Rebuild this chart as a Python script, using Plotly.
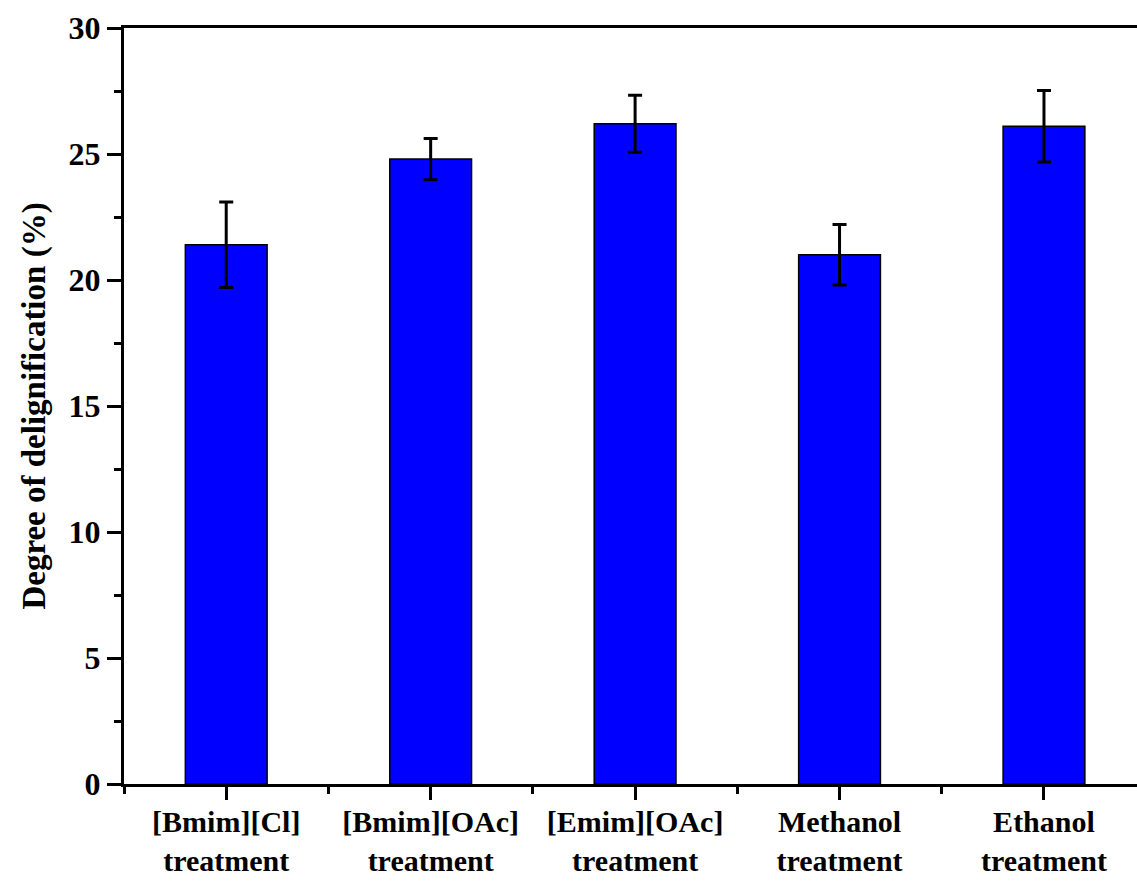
import plotly.graph_objects as go

categories = ["[Bmim][Cl]<br>treatment", "[Bmim][OAc]<br>treatment", "[Emim][OAc]<br>treatment",
              "Methanol<br>treatment", "Ethanol<br>treatment"]
values = [21.4, 24.8, 26.2, 21.0, 26.1]
errors = [1.7, 0.82, 1.13, 1.2, 1.42]
y_ticks = [0, 5, 10, 15, 20, 25, 30]

xpos = list(range(len(categories)))
FONT = "Liberation Serif"

fig = go.Figure()
fig.add_trace(go.Bar(
    x=xpos, y=values, width=0.4,
    marker=dict(color="#0000FF", line=dict(color="#000000", width=1.5)),
    error_y=dict(type="data", array=errors, visible=True, color="#000000",
                 thickness=3, width=7),
    showlegend=False,
))

fig.update_layout(
    width=1137, height=882,
    margin=dict(l=124, r=0, t=28, b=98),
    plot_bgcolor="white", paper_bgcolor="white",
    font=dict(family=FONT, color="black"),
    bargap=0.6,
)
fig.update_xaxes(
    range=[-0.5, 4.455], automargin=False,
    tickvals=xpos, ticktext=[f"<b>{c.replace('<br>', '</b><br><b>')}</b>" for c in categories],
    tickfont=dict(family=FONT, size=30, color="black"),
    ticklabelstandoff=-4,
    showline=True, linecolor="black", linewidth=3, mirror=True,
    ticks="outside", ticklen=13, tickwidth=3, tickcolor="black",
    minor=dict(tickvals=[-0.5, 0.5, 1.5, 2.5, 3.5], ticks="outside", ticklen=7,
               tickwidth=3, tickcolor="black"),
    showgrid=False, zeroline=False,
)
fig.update_yaxes(
    range=[0, 30], automargin=False,
    tickvals=y_ticks, ticktext=[f"<b>{t}</b>" for t in y_ticks],
    tickfont=dict(family=FONT, size=32, color="black"),
    showline=True, linecolor="black", linewidth=3, mirror=False,
    ticks="outside", ticklen=14, tickwidth=3, tickcolor="black",
    minor=dict(dtick=2.5, tick0=0, ticks="outside", ticklen=7, tickwidth=3,
               tickcolor="black", showgrid=False),
    showgrid=False, zeroline=False,
    title=dict(text="<b>Degree of delignification (%)</b>",
               font=dict(family=FONT, size=33, color="black"), standoff=14),
)

fig.write_html("out.html")
